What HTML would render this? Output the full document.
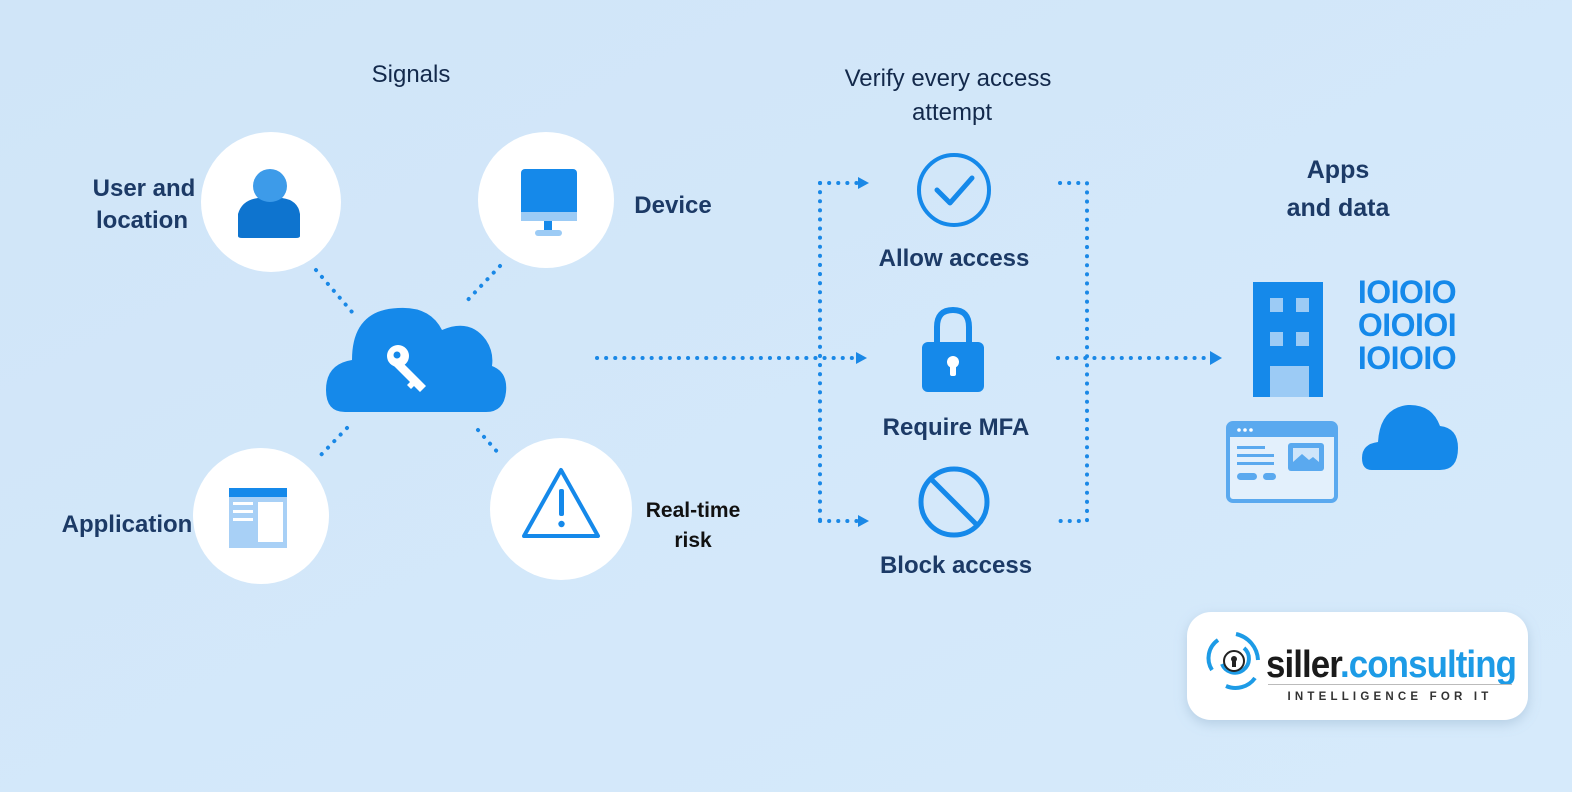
<!DOCTYPE html>
<html><head><style>
html,body{margin:0;padding:0;width:1572px;height:792px;overflow:hidden;background:#d3e8fa}
svg{display:block}
text{font-family:"Liberation Sans",sans-serif}
</style></head><body>
<svg width="1572" height="792" viewBox="0 0 1572 792">
<defs>
<linearGradient id="bg" x1="0" y1="0" x2="1" y2="1"><stop offset="0" stop-color="#d0e5f8"/><stop offset="1" stop-color="#d6eafb"/></linearGradient>
<filter id="sh" x="-20%" y="-20%" width="140%" height="150%"><feDropShadow dx="0" dy="4" stdDeviation="6" flood-color="#7a9bb8" flood-opacity="0.35"/></filter>
</defs>
<rect width="1572" height="792" fill="url(#bg)"/>
<g fill="#13294b" font-size="24">
<text x="411" y="82" text-anchor="middle">Signals</text>
<text x="948" y="86" text-anchor="middle">Verify every access</text>
<text x="952" y="120" text-anchor="middle">attempt</text>
</g>
<g fill="#1c3a66" font-weight="bold" font-size="24">
<text x="144" y="196" text-anchor="middle">User and</text>
<text x="142" y="228" text-anchor="middle">location</text>
<text x="673" y="213" text-anchor="middle">Device</text>
<text x="127" y="532" text-anchor="middle">Application</text>
<text x="954" y="266" text-anchor="middle">Allow access</text>
<text x="956" y="435" text-anchor="middle">Require MFA</text>
<text x="956" y="573" text-anchor="middle">Block access</text>
<text x="1338" y="178" text-anchor="middle" font-size="25">Apps</text>
<text x="1338" y="216" text-anchor="middle" font-size="25">and data</text>
</g>
<g fill="#111" font-weight="bold" font-size="21">
<text x="693" y="517" text-anchor="middle">Real-time</text>
<text x="693" y="547" text-anchor="middle">risk</text>
</g>
<g stroke="#1a88e6" stroke-width="4" stroke-dasharray="0.1 9" stroke-linecap="round" fill="none">
<path d="M316 270 L352 312"/><path d="M500 266 L463 305"/>
<path d="M347 428 L318 458"/><path d="M478 430 L500 455"/>
<path d="M597 358 L852 358"/>
<path d="M820 183 L820 521"/>
<path d="M820 183 L858 183"/><path d="M820 521 L858 521"/>
<path d="M1060 183 L1087 183 L1087 521 L1060 521"/>
<path d="M1058 358 L1212 358"/>
</g>
<g fill="#1a88e6">
<path d="M856 352 L867 358 L856 364z"/>
<path d="M858 177 L869 183 L858 189z"/>
<path d="M858 515 L869 521 L858 527z"/>
<path d="M1210 351 L1222 358 L1210 365z"/>
</g>
<g fill="#fff">
<circle cx="271" cy="202" r="70"/>
<circle cx="546" cy="200" r="68"/>
<circle cx="261" cy="516" r="68"/>
<circle cx="561" cy="509" r="71"/>
</g>
<circle cx="270" cy="186" r="17" fill="#3d9be9"/>
<path d="M238 236 L238 214 Q242 200 258 198 Q270 206 282 198 Q298 200 300 214 L300 236 Q300 238 296 238 L242 238 Q238 238 238 236z" fill="#0e74cf"/>
<rect x="521" y="169" width="56" height="52" rx="4" fill="#1589ea"/>
<rect x="521" y="212" width="56" height="9" fill="#9ccbf5"/>
<rect x="544" y="221" width="8" height="9" fill="#1589ea"/>
<rect x="535" y="230" width="27" height="6" rx="3" fill="#9ccbf5"/>
<rect x="229" y="488" width="58" height="60" fill="#a8d0f6"/>
<rect x="229" y="488" width="58" height="9" fill="#1589ea"/>
<rect x="258" y="502" width="25" height="40" fill="#fff"/>
<g fill="#fff"><rect x="233" y="502" width="20" height="3"/><rect x="233" y="510" width="20" height="3"/><rect x="233" y="518" width="20" height="3"/></g>
<path d="M561 470 L598 536 L524 536z" fill="none" stroke="#1589ea" stroke-width="4" stroke-linejoin="round"/>
<rect x="559" y="489" width="5" height="27" rx="2" fill="#1589ea"/>
<circle cx="561.5" cy="524" r="3.2" fill="#1589ea"/>
<path d="M345 412 Q326 412 326 390 Q326 364 352 360 Q352 310 398 308 Q430 306 442 330 Q470 318 486 340 Q494 352 492 366 Q508 372 506 392 Q504 412 486 412z" fill="#1589ea"/>
<g fill="#fff"><circle cx="398" cy="356" r="11"/><path d="M400 360 L426 386 L420 392 L414 386 L411 389 L407 385 L410 382 L394 366z"/></g>
<circle cx="397" cy="355" r="3.5" fill="#1589ea"/>
<circle cx="954" cy="190" r="35" fill="none" stroke="#1589ea" stroke-width="4"/>
<path d="M937 190 L950 203 L972 178" fill="none" stroke="#1589ea" stroke-width="5" stroke-linecap="round" stroke-linejoin="round"/>
<path d="M937 345 L937 327 Q937 310 953 310 Q969 310 969 327 L969 345" fill="none" stroke="#1589ea" stroke-width="6"/>
<rect x="922" y="342" width="62" height="50" rx="6" fill="#1589ea"/>
<circle cx="953" cy="362" r="6" fill="#fff"/><rect x="950" y="362" width="6" height="14" rx="2" fill="#fff"/>
<circle cx="954" cy="502" r="33" fill="none" stroke="#1589ea" stroke-width="5"/>
<path d="M931 479 L977 525" stroke="#1589ea" stroke-width="5"/>
<rect x="1253" y="282" width="70" height="115" fill="#1589ea"/>
<g fill="#9ccbf5"><rect x="1270" y="298" width="13" height="14"/><rect x="1296" y="298" width="13" height="14"/><rect x="1270" y="332" width="13" height="14"/><rect x="1296" y="332" width="13" height="14"/><rect x="1270" y="366" width="39" height="31"/></g>
<g fill="#1589ea" font-weight="bold" font-size="32" text-anchor="middle" font-family="Liberation Sans Narrow, Liberation Sans, sans-serif" letter-spacing="-0.5">
<text x="1407" y="303">IOIOIO</text><text x="1407" y="336">OIOIOI</text><text x="1407" y="369">IOIOIO</text>
</g>
<rect x="1228" y="423" width="108" height="78" rx="5" fill="#e3f0fc" stroke="#5aa9ef" stroke-width="4"/>
<rect x="1228" y="423" width="108" height="14" fill="#5aa9ef"/>
<g fill="#fff"><circle cx="1239" cy="430" r="1.8"/><circle cx="1245" cy="430" r="1.8"/><circle cx="1251" cy="430" r="1.8"/></g>
<g fill="#5aa9ef"><rect x="1237" y="446" width="28" height="3"/><rect x="1237" y="454" width="37" height="3"/><rect x="1237" y="462" width="37" height="3"/><rect x="1237" y="473" width="20" height="7" rx="3.5"/><rect x="1263" y="473" width="13" height="7" rx="3.5"/></g>
<rect x="1288" y="443" width="36" height="28" rx="3" fill="#5aa9ef"/>
<rect x="1293" y="448" width="26" height="18" fill="#cfe5fa"/>
<path d="M1293 462 L1302 454 L1309 460 L1313 457 L1319 462 L1319 466 L1293 466z" fill="#5aa9ef"/>
<path d="M1372 470 Q1362 470 1362 458 Q1362 444 1378 442 Q1380 408 1408 405 Q1432 404 1440 426 Q1458 428 1458 448 Q1458 470 1440 470z" fill="#1589ea"/>
<rect x="1187" y="612" width="341" height="108" rx="24" fill="#fff" filter="url(#sh)"/>
<g fill="none" stroke="#1d9be6" stroke-width="4">
<path d="M1218 640 A22 22 0 0 0 1212 670"/>
<path d="M1226 686 A24 24 0 0 0 1255 678"/>
<path d="M1244 648 A14 14 0 1 1 1222 664"/>
<path d="M1236 634 A28 28 0 0 1 1258 660"/>
</g>
<circle cx="1234" cy="661" r="10" fill="#fff" stroke="#222" stroke-width="2"/>
<circle cx="1234" cy="659" r="3" fill="#222"/><rect x="1232" y="660" width="4" height="7" fill="#222"/>
<text x="1266" y="677" font-size="38" font-weight="600" fill="#1a1a1a" letter-spacing="-1" textLength="250" lengthAdjust="spacingAndGlyphs">siller<tspan fill="#1d9be6">.consulting</tspan></text>
<rect x="1268" y="684" width="244" height="1" fill="#bbb"/>
<text x="1390" y="700" font-size="11.5" text-anchor="middle" fill="#333" letter-spacing="4.2" font-weight="bold">INTELLIGENCE FOR IT</text>
</svg>
</body></html>
